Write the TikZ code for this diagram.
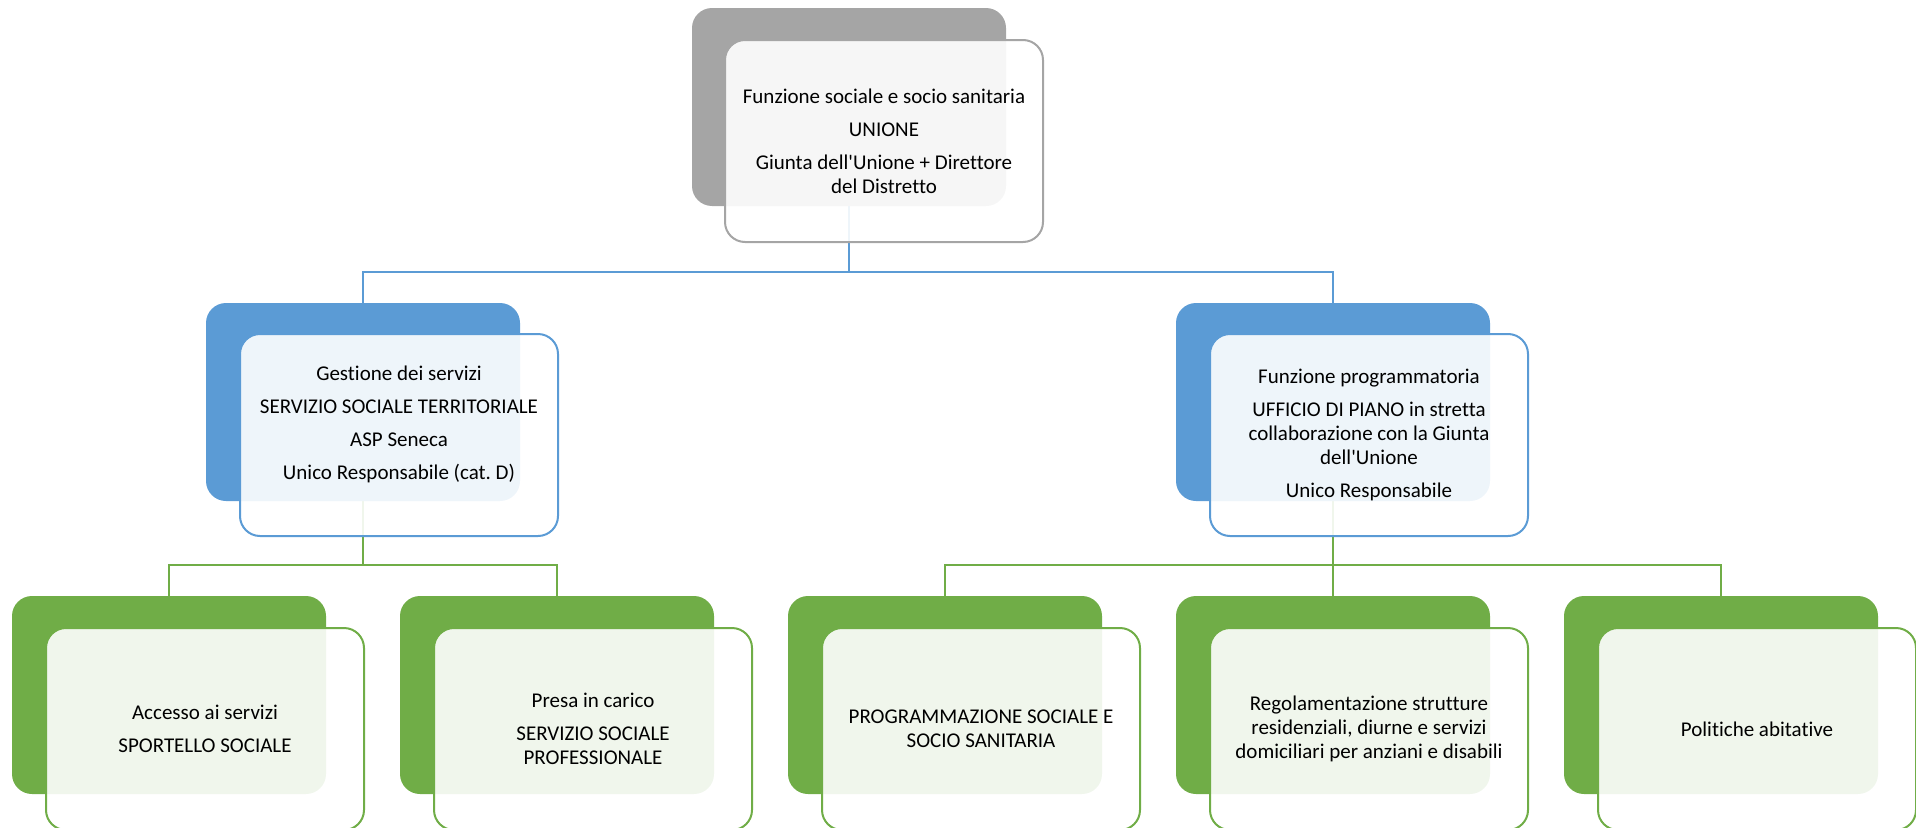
\documentclass[tikz,border=0pt]{standalone}
\usepackage{fontspec}
\setmainfont[Ligatures={NoCommon}]{Carlito}
\frenchspacing
\pgfdeclarelayer{background}
\pgfsetlayers{background,main}
\definecolor{cgray}{HTML}{A5A5A5}
\definecolor{cblue}{HTML}{5B9BD5}
\definecolor{cgreen}{HTML}{70AD47}
\tikzset{
  backbox/.style={draw=none, fill=#1, rounded corners=20pt, minimum width=314pt, minimum height=198pt, anchor=north west, inner sep=0pt, outer sep=0pt},
  frontbox/.style={draw=#1, line width=2pt, fill=white, fill opacity=0.9, rounded corners=20pt, minimum width=318pt, minimum height=202pt, anchor=north west, inner sep=0pt, outer sep=0pt},
  boxtext/.style={align=center, inner sep=0pt, font=\fontsize{21}{24}\selectfont, text=black},
  conn/.style={draw=#1, line width=2pt},
}
\begin{document}
\begin{tikzpicture}[x=1pt,y=-1pt]
\useasboundingbox (0,0) rectangle (1916,827);
% top
\node[backbox=cgray] (b0) at (692,8) {};
\node[frontbox=cgray] (f0) at (725,40) {};
\node[boxtext] (t0) at (884,141) {Funzione sociale e socio sanitaria\\[9pt]UNIONE\\[9pt]Giunta dell\textquotesingle Unione + Direttore\\del Distretto};
% middle
\node[backbox=cblue] (b1) at (206,303) {};
\node[frontbox=cblue] (f1) at (240,334) {};
\node[boxtext] (t1) at (399,424) {Gestione dei servizi\\[9pt]SERVIZIO SOCIALE TERRITORIALE\\[9pt]ASP Seneca\\[9pt]Unico Responsabile (cat.\ D)};
\node[backbox=cblue] (b2) at (1176,303) {};
\node[frontbox=cblue] (f2) at (1210,334) {};
\node[boxtext] (t2) at (1369,435) {Funzione programmatoria\\[9pt]UFFICIO DI PIANO in stretta\\collaborazione con la Giunta\\dell\textquotesingle Unione\\[9pt]Unico Responsabile};
% bottom
\node[backbox=cgreen] (c1) at (12,596) {};
\node[frontbox=cgreen] (g1) at (46,628) {};
\node[boxtext] (u1) at (205,729) {Accesso ai servizi\\[9pt]SPORTELLO SOCIALE};
\node[backbox=cgreen] (c2) at (400,596) {};
\node[frontbox=cgreen] (g2) at (434,628) {};
\node[boxtext] (u2) at (593,729) {Presa in carico\\[9pt]SERVIZIO SOCIALE\\PROFESSIONALE};
\node[backbox=cgreen] (c3) at (788,596) {};
\node[frontbox=cgreen] (g3) at (822,628) {};
\node[boxtext] (u3) at (981,729) {PROGRAMMAZIONE SOCIALE E\\SOCIO SANITARIA};
\node[backbox=cgreen] (c4) at (1176,596) {};
\node[frontbox=cgreen] (g4) at (1210,628) {};
\node[boxtext] (u4) at (1369,729) {Regolamentazione strutture\\residenziali, diurne e servizi\\domiciliari per anziani e disabili};
\node[backbox=cgreen] (c5) at (1564,596) {};
\node[frontbox=cgreen] (g5) at (1598,628) {};
\node[boxtext] (u5) at (1757,729) {Politiche abitative};
% connectors
\begin{pgfonlayer}{background}
\coordinate (j0) at (b0.south |- 0,272);
\coordinate (j1) at (b1.south |- 0,565);
\coordinate (j2) at (b2.south |- 0,565);
\draw[conn=cblue] (b0.south) -- (j0) -| (b1.north);
\draw[conn=cblue] (j0) -| (b2.north);
\draw[conn=cgreen] (b1.south) -- (j1) -| (c1.north);
\draw[conn=cgreen] (j1) -| (c2.north);
\draw[conn=cgreen] (b2.south) -- (j2) -| (c3.north);
\draw[conn=cgreen] (j2) -| (c4.north);
\draw[conn=cgreen] (j2) -| (c5.north);
\end{pgfonlayer}
\end{tikzpicture}
\end{document}
